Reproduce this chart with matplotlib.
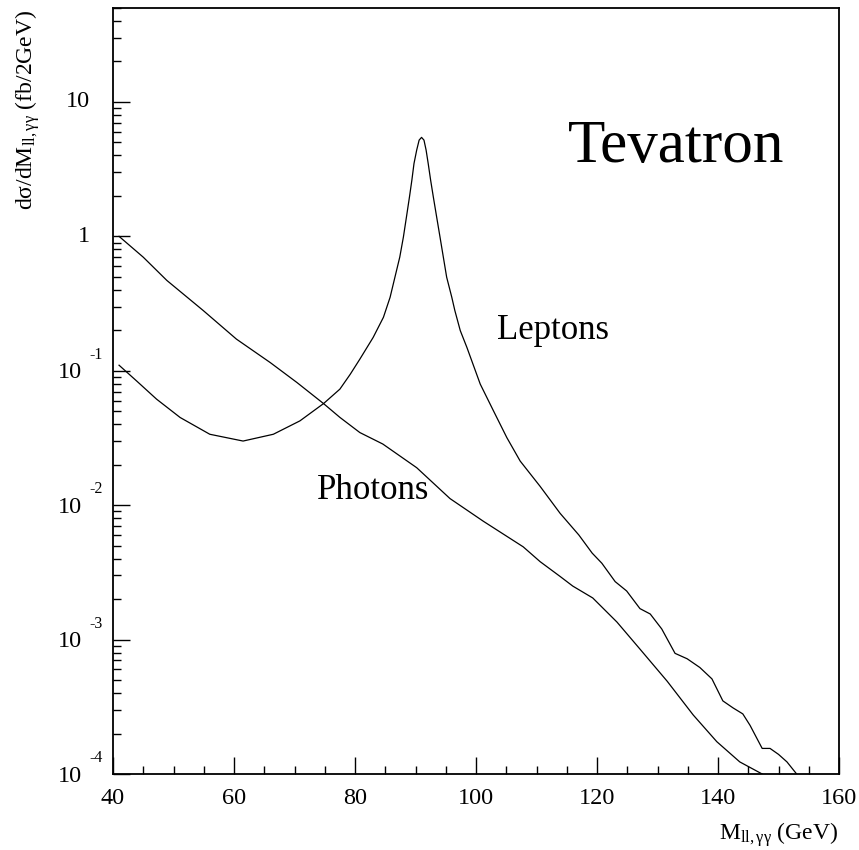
import numpy as np
import matplotlib
matplotlib.use("Agg")
import matplotlib.pyplot as plt
from matplotlib.ticker import MultipleLocator, LogLocator, NullFormatter, FixedLocator

plt.rcParams['font.family'] = ['Liberation Serif', 'DejaVu Serif']
plt.rcParams['mathtext.fontset'] = 'custom'
plt.rcParams['mathtext.rm'] = 'Liberation Serif'
plt.rcParams['mathtext.it'] = 'Liberation Serif:italic'
plt.rcParams['mathtext.bf'] = 'Liberation Serif:bold'

#######data
# leptons: Z peak on top of the continuum
lep_m = [41, 43.9, 47.2, 51.1, 56.0, 61.5, 66.5, 70.9, 74.8, 77.5, 79.2, 80.8,
         83.0, 84.7, 85.8, 86.6, 87.4, 88.0, 88.5, 89.0, 89.4, 89.75, 90.2, 90.6,
         91.0, 91.4, 91.75, 92.1, 92.5, 92.95, 93.5, 94.05, 94.6, 95.15, 96.0,
         96.5, 97.4, 98.5, 100.7, 102.9, 105.1, 107.3, 110.6, 113.9, 117, 119.2,
         120.8, 123, 124.9, 127.1, 128.8, 130.7, 132.9, 134.9, 137, 139, 140.8,
         142.5, 144.1, 145.3, 147.3, 148.6, 150, 151.4, 153]
lep_v = [0.110, 0.084, 0.0615, 0.0449, 0.0337, 0.0300, 0.0337, 0.0424, 0.057,
         0.073, 0.094, 0.122, 0.177, 0.250, 0.352, 0.497, 0.701, 0.989, 1.39,
         1.96, 2.62, 3.48, 4.39, 5.20, 5.45, 5.20, 4.39, 3.48, 2.62, 1.96, 1.39,
         0.989, 0.701, 0.497, 0.352, 0.281, 0.199, 0.149, 0.0796, 0.0502, 0.0318,
         0.0213, 0.0138, 0.0087, 0.006, 0.0044, 0.0037, 0.0027, 0.0023, 0.0017,
         0.00155, 0.0012, 0.00079, 0.00072, 0.00062, 0.00051, 0.00035, 0.00031,
         0.00028, 0.00023, 0.000155, 0.000155, 0.00014, 0.000123, 0.0001]
# photons
pho_m = [41, 45.0, 48.9, 54.9, 60.4, 66.0, 70.4, 74.8, 77.5, 80.8, 84.6, 90.2,
         95.7, 101.2, 107.8, 110.6, 113.9, 116, 119.3, 123.3, 127.1, 131.6, 135.9,
         139.8, 143.6, 147.3]
pho_v = [1.0, 0.70, 0.47, 0.281, 0.172, 0.115, 0.0818, 0.057, 0.045, 0.0347,
         0.0285, 0.019, 0.0112, 0.0076, 0.0049, 0.0038, 0.00295, 0.0025, 0.00204,
         0.00135, 0.00085, 0.00049, 0.000275, 0.000174, 0.000123, 0.0001]

xticks = [40, 60, 80, 100, 120, 140, 160]
yticks = [1e-4, 1e-3, 1e-2, 1e-1, 1, 10]
ylabels = [("10", "-4"), ("10", "-3"), ("10", "-2"), ("10", "-1"), ("1", None), ("10", None)]
########

fig = plt.figure(figsize=(8.59, 8.50), dpi=100)
ax = fig.add_axes([113/859, 1 - 774/850, 726/859, 766/850])

ax.plot(lep_m, lep_v, color='black', lw=0.9)
ax.plot(pho_m, pho_v, color='black', lw=0.9)

ax.set_yscale('log')
ax.set_xlim(40, 160)
ax.set_ylim(1e-4, 50)

# ticks, root style: inside, only bottom and left
ax.xaxis.set_major_locator(FixedLocator(xticks))
ax.xaxis.set_minor_locator(MultipleLocator(5))
ax.yaxis.set_major_locator(FixedLocator(yticks))
ax.yaxis.set_minor_locator(LogLocator(base=10, subs=np.arange(2, 10)))
ax.yaxis.set_minor_formatter(NullFormatter())
ax.set_yticklabels([])
ax.set_xticklabels([str(t) for t in xticks])
ax.tick_params(which='both', direction='in', top=False, right=False, width=1.0)
ax.tick_params(which='major', length=12)
ax.tick_params(which='minor', length=6)
ax.tick_params(axis='x', labelsize=17.5, pad=10)
for s in ax.spines.values():
    s.set_linewidth(1.3)

# y tick labels with raised exponents
for v, (base, ex) in zip(yticks, ylabels):
    if ex is None:
        ax.annotate(base, xy=(0, v), xycoords=('axes fraction', 'data'),
                    xytext=(-23, 0), textcoords='offset pixels',
                    ha='right', va='center', fontsize=17.5)
    else:
        ax.annotate(base, xy=(0, v), xycoords=('axes fraction', 'data'),
                    xytext=(-31, -2), textcoords='offset pixels',
                    ha='right', va='center', fontsize=17.5)
        ax.annotate(ex, xy=(0, v), xycoords=('axes fraction', 'data'),
                    xytext=(-24, 16), textcoords='offset pixels',
                    ha='left', va='center', fontsize=11.5)

# axis titles
fig.text(838/859, 1 - 840/850, r"M$_{\mathrm{ll,γγ}}$ (GeV)", ha='right', va='baseline', fontsize=17)
fig.text(28/859, 1 - 10/850, r"dσ/dM$_{\mathrm{ll,γγ}}$ (fb/2GeV)", rotation=90,
         ha='center', va='top', fontsize=17)

ax.text(115.2, 3.57, "Tevatron", fontsize=44, va='baseline', ha='left')
ax.text(103.5, 0.173, "Leptons", fontsize=25, va='baseline', ha='left')
ax.text(73.7, 0.0111, "Photons", fontsize=25, va='baseline', ha='left')

plt.savefig("out.png", dpi=100)
